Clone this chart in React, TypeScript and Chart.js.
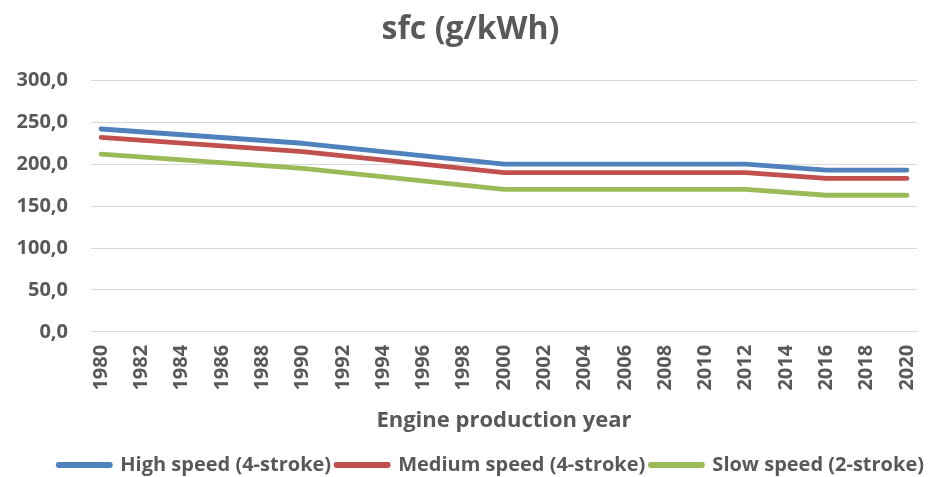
import React, { useEffect, useRef } from "react";
import { Chart, registerables } from "chart.js";

Chart.register(...registerables);

const years = [1980, 1990, 2000, 2012, 2016, 2020];
const highSpeed = [242, 225, 200, 200, 193, 193];
const mediumSpeed = [232, 215, 190, 190, 183, 183];
const slowSpeed = [212, 195, 170, 170, 163, 163];
const tickYears = Array.from({ length: 21 }, (_, i) => 1980 + i * 2);
const seriesNames = ["High speed (4-stroke)", "Medium speed (4-stroke)", "Slow speed (2-stroke)"];
const seriesColors = ["#4F81BD", "#C0504D", "#9BBB59"];

const FONT = "'Open Sans', sans-serif";
const TEXT = "#595959";

export default function App() {
  const ref = useRef<HTMLCanvasElement | null>(null);
  useEffect(() => {
    if (!ref.current) return;
    const mk = (vals: number[], i: number) => ({
      label: seriesNames[i],
      data: years.map((x, k) => ({ x, y: vals[k] })),
      borderColor: seriesColors[i],
      backgroundColor: seriesColors[i],
      borderWidth: 4.8,
      pointRadius: 0,
      tension: 0,
      borderCapStyle: "round" as const,
      borderJoinStyle: "round" as const,
    });
    const chart = new Chart(ref.current, {
      type: "line",
      data: {
        datasets: [mk(highSpeed, 0), mk(mediumSpeed, 1), mk(slowSpeed, 2)],
      },
      options: {
        animation: false,
        responsive: false,
        maintainAspectRatio: false,
        layout: { padding: { left: 12, right: 2, top: 2, bottom: -8 } },
        plugins: {
          title: {
            display: true,
            text: "sfc (g/kWh)",
            color: TEXT,
            font: { family: FONT, size: 32, weight: "bold" },
            padding: { top: 9, bottom: 31 },
          },
          legend: {
            position: "bottom",
            align: "end",
            labels: {
              color: TEXT,
              font: { family: FONT, size: 20, weight: "bold" },
              boxWidth: 52,
              boxHeight: 1,
              padding: 5,
            },
          },
          tooltip: { enabled: false },
        },
        scales: {
          x: {
            type: "linear",
            min: 1979.5,
            max: 2020.5,
            afterBuildTicks: (axis: any) => {
              axis.ticks = tickYears.map((v) => ({ value: v }));
            },
            afterFit: (axis: any) => {
              axis.paddingRight = 14;
            },
            grid: { display: false, drawTicks: false },
            border: { display: true, color: "#D9D9D9", width: 1 },
            ticks: {
              color: TEXT,
              font: { family: FONT, size: 20, weight: "bold" },
              minRotation: 90,
              maxRotation: 90,
              autoSkip: false,
              padding: 13,
              callback: (v: any) => String(v),
            },
            title: {
              display: true,
              text: "Engine production year",
              color: TEXT,
              font: { family: FONT, size: 22, weight: "bold" },
              padding: { top: 4, bottom: 16 },
            },
          },
          y: {
            min: 0,
            max: 300,
            afterFit: (axis: any) => {
              axis.width = 79;
            },
            ticks: {
              stepSize: 50,
              color: TEXT,
              font: { family: FONT, size: 20, weight: "bold" },
              padding: 23,
              callback: (v: any) => Number(v).toFixed(1).replace(".", ","),
            },
            grid: { color: "#D9D9D9", lineWidth: 1, drawTicks: false },
            border: { display: false },
          },
        },
      },
    });
    return () => chart.destroy();
  }, []);
  return (
    <div style={{ position: "fixed", left: 0, top: 0, width: 931, height: 477, background: "#fff" }}>
      <canvas ref={ref} width={931} height={477} style={{ display: "block" }} />
    </div>
  );
}
